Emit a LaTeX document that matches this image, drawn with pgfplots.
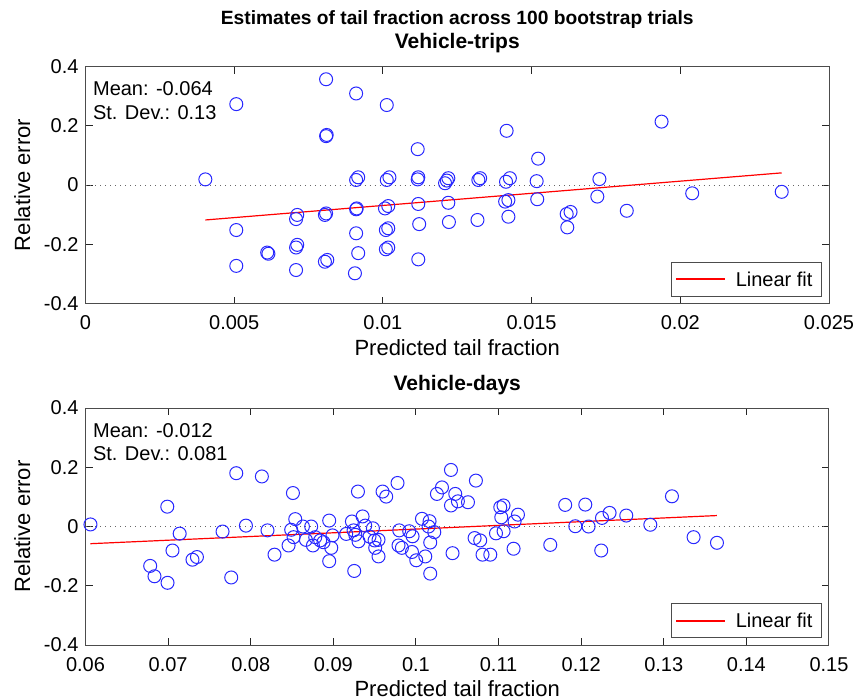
\documentclass[border=0pt]{standalone}
\usepackage{fontspec}
\setmainfont{Liberation Sans}
\usepackage{pgfplots}
\pgfplotsset{compat=1.18}

\definecolor{markblue}{RGB}{40,40,255}
\definecolor{fitred}{RGB}{255,0,0}

\tikzset{
  fitkey/.style={anchor=south east, xshift=-3.5bp, yshift=3.5bp,
    draw=black!70, line width=0.5bp,
    inner xsep=4.5bp, inner ysep=4.85bp, text height=7.3bp, text depth=0bp,
    font=\fontsize{10bp}{12bp}\selectfont},
  statbox/.style={anchor=north west, inner sep=0pt, xshift=3.6bp, yshift=-7.5bp,
    align=left, font=\fontsize{10bp}{11.7bp}\selectfont},
}
% key entry: room for the red sample line, then its name
\newcommand{\fitkeytext}{\hspace*{27.5bp}Linear fit}

\pgfplotsset{
  errplot/.style={
    scale only axis, width=371.75bp, height=118.5bp,
    anchor=south west,
    axis line style={black!70, line width=0.5bp},
    tick align=inside, major tick length=3.5bp,
    tick style={black!85, line width=0.5bp},
    ymin=-0.4, ymax=0.4, ytick={-0.4,-0.2,0,0.2,0.4},
    scaled x ticks=false, scaled y ticks=false,
    /pgf/number format/assume math mode=true,
    /pgf/number format/fixed,
    /pgf/number format/precision=3,
    tick label style={font=\fontsize{10bp}{12bp}\selectfont},
    xticklabel style={yshift=-2.5bp},
    xlabel={Predicted tail fraction}, ylabel={Relative error},
    xlabel style={yshift=2bp},
    label style={font=\fontsize{11bp}{13bp}\selectfont},
    title style={font=\fontsize{10.5bp}{12bp}\selectfont\bfseries, align=center, yshift=-2.8bp},
  },
  pts/.style={only marks, mark=o, mark size=3.25bp,
    mark options={draw=markblue, line width=0.5bp}},
  fitline/.style={draw=fitred, line width=0.6bp},
  keyline/.style={draw=fitred, line width=0.8bp},
  zeroline/.style={black!60, dotted, line width=0.5bp},
}

\begin{document}
\begin{tikzpicture}
\path[use as bounding box] (0,0) rectangle (429bp,-350bp);

% Vehicle-trips
\begin{axis}[errplot, at={(42.75bp,-151.75bp)},
  xmin=0, xmax=0.025, xtick={0,0.005,0.01,0.015,0.02,0.025},
  title={{\fontsize{9.6bp}{12bp}\selectfont Estimates of tail fraction across 100 bootstrap trials}\\Vehicle-trips}]
\addplot[zeroline] coordinates {(0,0) (0.025,0)};
\addplot[pts] coordinates {
(0.00403,0.019) (0.00507,0.273) (0.00507,-0.152) (0.00507,-0.273)
(0.00611,-0.228) (0.00615,-0.232)
(0.00708,-0.115) (0.00712,-0.101) (0.00708,-0.211) (0.00712,-0.202) (0.00708,-0.287)
(0.00809,0.357) (0.00809,0.165) (0.00811,0.169) (0.00805,-0.101) (0.00809,-0.096)
(0.00805,-0.259) (0.00813,-0.253)
(0.00910,0.309) (0.00910,0.017) (0.00917,0.026) (0.00910,-0.082) (0.00912,-0.079)
(0.00910,-0.163) (0.00917,-0.230) (0.00906,-0.298)
(0.01013,0.270) (0.01013,0.017) (0.01022,0.026) (0.01007,-0.079) (0.01018,-0.071)
(0.01010,-0.152) (0.01018,-0.146) (0.01010,-0.217) (0.01018,-0.211)
(0.01117,0.121) (0.01117,0.019) (0.01119,0.026) (0.01119,-0.064) (0.01122,-0.132)
(0.01119,-0.251)
(0.01209,0.006) (0.01215,0.015) (0.01220,0.023) (0.01220,-0.060) (0.01222,-0.125)
(0.01321,0.017) (0.01327,0.023) (0.01318,-0.118)
(0.01416,0.183) (0.01414,0.011) (0.01427,0.023) (0.01411,-0.056) (0.01422,-0.051)
(0.01422,-0.107)
(0.01522,0.089) (0.01517,0.013) (0.01519,-0.048)
(0.01618,-0.098) (0.01631,-0.091) (0.01620,-0.143)
(0.01728,0.020) (0.01721,-0.039)
(0.01820,-0.087) (0.01937,0.214) (0.02040,-0.028) (0.02341,-0.023)
};
\addplot[fitline] coordinates {(0.00403,-0.118) (0.02341,0.041)};
% sample line of the key
\addplot[keyline] coordinates {(0.01986,-0.317) (0.02150,-0.317)};
\node[statbox] at (rel axis cs:0,1) {Mean: -0.064\\St. Dev.: 0.13};
\node[fitkey] at (rel axis cs:1,0) {\fitkeytext};
\end{axis}

% Vehicle-days
\begin{axis}[errplot, at={(42.75bp,-322.5bp)},
  xmin=0.06, xmax=0.15, xtick={0.06,0.07,0.08,0.09,0.1,0.11,0.12,0.13,0.14,0.15},
  title={Vehicle-days}]
\addplot[zeroline] coordinates {(0.06,0) (0.15,0)};
\addplot[pts] coordinates {
(0.0606,0.007) (0.0699,0.067) (0.0714,-0.024) (0.07053,-0.081) (0.06783,-0.133)
(0.06835,-0.168) (0.06993,-0.190) (0.07295,-0.112) (0.07349,-0.103)
(0.07825,0.180) (0.08135,0.169) (0.08511,0.113) (0.07659,-0.017) (0.07942,0.003)
(0.08203,-0.013) (0.07764,-0.172) (0.08288,-0.095) (0.0849,-0.011) (0.08539,0.025)
(0.08519,-0.036) (0.08458,-0.064) (0.08632,0.000) (0.08732,0.000) (0.08668,-0.045)
(0.08753,-0.064) (0.08781,-0.036) (0.08841,-0.047) (0.08881,-0.053) (0.0895,0.020)
(0.0899,-0.030) (0.08975,-0.072) (0.0895,-0.117)
(0.09298,0.118) (0.09225,0.017) (0.09354,0.034) (0.09156,-0.025) (0.09245,-0.013)
(0.09266,-0.028) (0.09305,-0.050) (0.09386,0.003) (0.09438,-0.034) (0.09479,-0.006)
(0.09499,-0.047) (0.09547,-0.045) (0.09507,-0.072) (0.09547,-0.101) (0.09253,-0.150)
(0.09596,0.118) (0.0964,0.101) (0.09777,0.147) (0.09798,-0.013) (0.09789,-0.064)
(0.0983,-0.072) (0.09919,-0.016) (0.09959,-0.033) (0.09952,-0.086) (0.10004,-0.114)
(0.10073,0.026) (0.10165,0.018) (0.10153,0.000) (0.10222,-0.019) (0.10173,-0.054)
(0.10113,-0.101) (0.10173,-0.159) (0.10254,0.110) (0.10315,0.132) (0.10424,0.191)
(0.10476,0.110) (0.10508,0.085) (0.10424,0.071) (0.10443,-0.090)
(0.1063,0.082) (0.10726,0.155) (0.11021,0.065) (0.1106,0.071) (0.11033,0.031)
(0.11235,0.040) (0.11194,0.017) (0.10969,-0.023) (0.11061,-0.016) (0.1071,-0.039)
(0.10778,-0.047) (0.10806,-0.095) (0.109,-0.095) (0.11182,-0.075) (0.11807,0.073)
(0.11626,-0.062) (0.11929,0.001) (0.1205,0.074)
(0.1209,0.000) (0.12252,0.029) (0.12344,0.046) (0.12243,-0.081) (0.12546,0.037)
(0.12837,0.006) (0.13099,0.102) (0.13361,-0.036) (0.13644,-0.055)
};
\addplot[fitline] coordinates {(0.0606,-0.058) (0.13644,0.037)};
% sample line of the key
\addplot[keyline] coordinates {(0.13151,-0.318) (0.13744,-0.318)};
\node[statbox] at (rel axis cs:0,1) {Mean: -0.012\\St. Dev.: 0.081};
\node[fitkey] at (rel axis cs:1,0) {\fitkeytext};
\end{axis}
\end{tikzpicture}
\end{document}
